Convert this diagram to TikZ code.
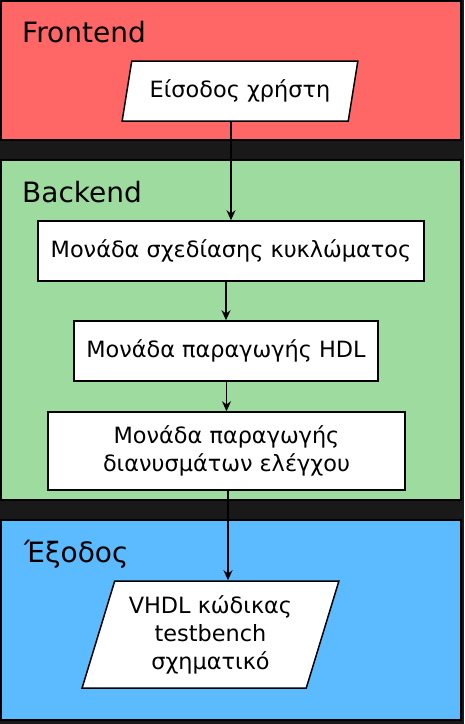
\documentclass[tikz,border=0pt]{standalone}
\usepackage{fontspec}
\setmainfont{DejaVu Sans}
\usetikzlibrary{shapes.geometric,arrows.meta}
\definecolor{frontred}{HTML}{FF6666}
\definecolor{backgreen}{HTML}{9EDB9E}
\definecolor{outblue}{HTML}{5CBAFF}

\begin{document}
\begin{tikzpicture}[x=1pt,y=-1pt,>={Stealth[length=10pt,width=9pt]},
    panel/.style={draw=black,line width=2pt},
    title/.style={anchor=base west,inner sep=0pt,font=\fontsize{28}{33}\selectfont},
    unit/.style={draw=black,fill=white,line width=1.5pt,inner sep=0pt,align=center,
      font=\fontsize{22.4}{28}\selectfont},
    io/.style={unit,trapezium,trapezium left angle=70.5,trapezium right angle=109.5,
      trapezium stretches=true}]
  % dark background and the three panels
  \fill[black!90] (0,0) rectangle (464,724);
  \draw[panel,fill=frontred] (1,1) rectangle (461,140);
  \draw[panel,fill=backgreen] (1,160) rectangle (461,500);
  \draw[panel,fill=outblue] (1,520) rectangle (461,720);
  \node[title] (tfront) at (22,42) {Frontend};
  \node[title] (tback) at (22,202) {Backend};
  \node[title] (tout) at (24,562) {Έξοδος};
  % flow boxes
  \node[io,minimum width=236pt,minimum height=60pt] (in) at (240,91) {Είσοδος χρήστη};
  \node[unit,minimum width=386pt,minimum height=60pt] (design) at (231,251)
       {Μονάδα σχεδίασης κυκλώματος};
  \node[unit,minimum width=304pt,minimum height=60pt] (hdl) at (226,351)
       {Μονάδα παραγωγής HDL};
  \node[unit,minimum width=357pt,minimum height=78pt] (vectors) at (226.5,451)
       {Μονάδα παραγωγής\\διανυσμάτων ελέγχου};
  \node[io,minimum width=257pt,minimum height=107pt] (out) at (210.5,634.5)
       {VHDL κώδικας\\testbench\\σχηματικό};
  % arrows
  \draw[->,line width=1.5pt] (design.north |- in.south) -- (design.north);
  \draw[->,line width=1.5pt] (hdl.north |- design.south) -- (hdl.north);
  \draw[->,line width=1.5pt] (vectors.north |- hdl.south) -- (vectors.north);
  \draw[->,line width=1.5pt] (vectors.south -| 228,0) -- (out.north -| 228,0);
\end{tikzpicture}
\end{document}
